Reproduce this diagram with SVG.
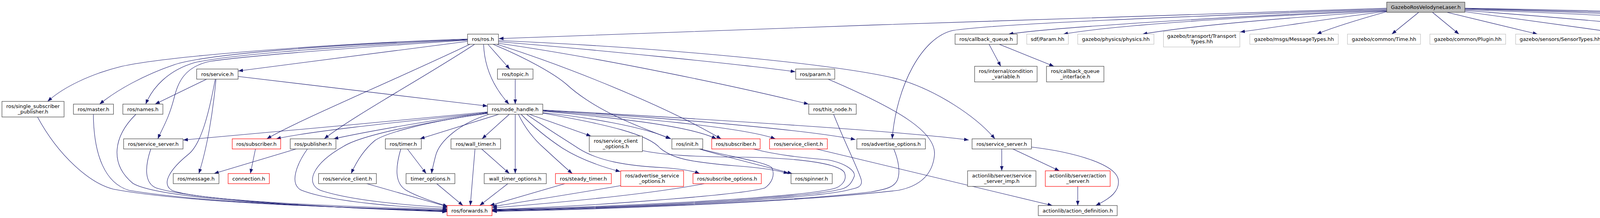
<svg xmlns="http://www.w3.org/2000/svg" width="5271" height="559" viewBox="0 0 5271 559">
<style>
.n rect{fill:#fff;stroke:#404040;stroke-width:1.2}
.r rect{fill:#fff;stroke:#ff0000;stroke-width:1.2}
.g rect{fill:#fff;stroke:#bfbfbf;stroke-width:1.2}
.root rect{fill:#bfbfbf;stroke:#404040;stroke-width:1.2}
text{font-family:"DejaVu Sans","Liberation Sans",sans-serif;font-size:13px;fill:#000;text-anchor:middle}
#edges path{fill:none;stroke:#191970;stroke-width:1.1;marker-end:url(#a)}
</style>
<defs>
<marker id="a" viewBox="0 0 12 9" refX="12" refY="4.5" markerWidth="12" markerHeight="9" markerUnits="userSpaceOnUse" orient="auto">
<polygon points="0,0 12,4.5 0,9" fill="#191970"/>
</marker>
</defs>
<rect width="5271" height="559" fill="#fff"/>
<g id="edges">
<path d="M3550,21 C2900,40 2000,72 1277,99"/>
<path d="M3550,23 C3100,40 2550,60 2440,78 C2360,95 2295,220 2284,356"/>
<path d="M3550,25 C3100,45 2700,70 2582,87.5"/>
<path d="M3550,27 C3150,45 2850,65 2722,87.5"/>
<path d="M3550,28 C3300,45 3050,65 2925,87.5"/>
<path d="M3550,29 C3420,45 3280,68 3175,82"/>
<path d="M3550,30 C3470,52 3400,75 3371,87.5"/>
<path d="M3632,31.5 L3563,87.5"/>
<path d="M3667,31.5 L3735,87.5"/>
<path d="M3704,31.5 L3936,87.5"/>
<path d="M3750,30 L4166,87.5"/>
<path d="M3750,27 C4000,45 4250,68 4365,81"/>
<path d="M3750,25 C4200,40 4480,60 4567,87.5"/>
<path d="M3750,23 C4300,38 4620,60 4717,87.5"/>
<path d="M3750,22 C4400,36 4780,60 4881,87.5"/>
<path d="M3750,21 C4550,34 4960,62 5092,87.5"/>
<path d="M1197,100 C900,110 450,140 312,170 C230,190 160,225 122,260"/>
<path d="M1197,101 C900,113 540,135 446,166 C370,192 300,230 255,267"/>
<path d="M1197,102 C920,116 600,138 500,160 C430,180 390,225 373,267"/>
<path d="M1197,103 C940,120 640,142 540,157 C470,170 455,215 446,250 C432,305 415,330 404,356"/>
<path d="M1197,106 L610,182"/>
<path d="M1203,113.5 C1000,210 760,310 683,356"/>
<path d="M1215,113.5 C1100,190 900,300 830,356"/>
<path d="M1238,113.5 C1240,170 1260,220 1303,267"/>
<path d="M1249,113.5 L1305,177"/>
<path d="M1276,107 C1500,125 1900,165 2036,184"/>
<path d="M1276,111 C1550,150 1900,225 2070,267"/>
<path d="M1272,113.5 C1450,170 1700,270 1846,356"/>
<path d="M1262,113.5 C1350,150 1420,190 1450,216 C1520,280 1620,320 1718,356"/>
<path d="M1276,104 C1700,122 2150,165 2300,203 C2400,232 2500,300 2547,356"/>
<path d="M1319,203 L1319,267"/>
<path d="M529,203 L397,267"/>
<path d="M609.5,196 L1248,272"/>
<path d="M553,203 C545,290 530,380 509,445"/>
<path d="M551,203 C535,290 515,370 482,396 C440,430 410,470 440,488 C520,520 1000,533 1144.5,538"/>
<path d="M96,300 C150,400 230,470 290,485 C500,525 1000,535 1144.5,540"/>
<path d="M239,293 C240,400 270,470 330,488 C550,525 1000,536 1144.5,541"/>
<path d="M348,293 C290,350 280,420 340,470 C420,520 1000,537 1144.5,542"/>
<path d="M386,382 C370,430 370,470 400,482 C520,520 1000,538 1144.5,543"/>
<path d="M654,382 L641,445"/>
<path d="M758,382 L548,445"/>
<path d="M787,382 C760,420 740,470 770,487 C850,520 1050,532 1146,536"/>
<path d="M1248,287 C1000,310 700,340 469,359"/>
<path d="M1248,289 C1050,310 800,335 707,356"/>
<path d="M1248,288 C1100,310 950,335 854,356"/>
<path d="M1248,291 C1100,310 990,340 960,360 C930,385 910,420 899,445"/>
<path d="M1248,290 C1050,320 920,350 880,375 C800,420 780,470 820,488 C900,515 1050,527 1146,532"/>
<path d="M1277,293 L1075,356"/>
<path d="M1252,293 C1180,315 1125,360 1115,400 C1110,420 1106,435 1105,445"/>
<path d="M1304,293 L1234,356"/>
<path d="M1319,293 L1319,445"/>
<path d="M1327,293 C1345,330 1370,360 1393,380 C1420,405 1445,428 1465,445"/>
<path d="M1334,293 C1370,330 1410,360 1440,380 C1480,405 1530,425 1588,440"/>
<path d="M1348,293 C1400,330 1450,360 1480,380 C1530,412 1600,425 1700,430 C1740,433 1770,437 1791,445"/>
<path d="M1355,293 L1513,349"/>
<path d="M1389,289 C1500,300 1650,325 1716,356"/>
<path d="M1389,290 C1560,320 1660,345 1690,380 C1720,405 1760,415 1880,425 C1950,430 1995,438 2018,445"/>
<path d="M1389,285 C1550,300 1760,320 1834,356"/>
<path d="M1389,284 C1600,300 1900,325 1985,356"/>
<path d="M1389,283 C1650,298 2050,330 2190,358"/>
<path d="M1389,282 C1800,305 2300,335 2480,359"/>
<path d="M1790,382 C1850,400 1950,425 2028,445"/>
<path d="M1793,382 C1860,400 1960,415 1976,430 C1985,450 1975,470 1958,482 C1900,500 1500,530 1260,537"/>
<path d="M1644,386 C1700,398 1780,402 1900,403 C2050,405 2150,420 2162,443 C2170,465 2150,478 2140,482 C2050,510 1500,532 1260,538"/>
<path d="M1929,382 C1990,398 2060,405 2120,410 C2170,420 2190,440 2187,452 C2180,470 2172,478 2160,483 C2070,512 1500,534 1260,539"/>
<path d="M2090,382 L2694,527"/>
<path d="M2134,293 C2160,360 2200,440 2205,462 C2208,478 2195,482 2180,485 C2080,515 1500,535 1260,540"/>
<path d="M2288,382 C2300,410 2305,440 2298,460 C2290,480 2270,485 2230,492 C2000,520 1500,536 1260,541"/>
<path d="M2120,203 C2300,280 2400,340 2392,400 C2385,460 2340,480 2300,488 C2000,522 1500,538 1260,542"/>
<path d="M1446,471 L1254,527"/>
<path d="M1589,476 C1450,500 1320,520 1260,530"/>
<path d="M1803,471 C1650,500 1400,522 1260,533"/>
<path d="M1043,382 L1091,445"/>
<path d="M1026,382 C1012,430 1010,470 1040,488 C1070,505 1110,518 1146,529"/>
<path d="M1216,382 L1204,527"/>
<path d="M1233,382 L1304,445"/>
<path d="M1118,471 L1185,527"/>
<path d="M1300,471 L1228,527"/>
<path d="M939,471 L1146,530"/>
<path d="M2532,113.5 L2562,170"/>
<path d="M2558,113.5 L2698,170"/>
<path d="M2564.5,382 L2564.5,438"/>
<path d="M2593,382 L2712,438"/>
<path d="M2640,377 C2750,390 2850,420 2862,457 C2870,490 2840,510 2805,527"/>
<path d="M2759,478 L2759,527"/>
</g>
<g id="n_root" class="root"><rect x="3550" y="5.5" width="200" height="26"/><text x="3650" y="23">GazeboRosVelodyneLaser.h</text></g>
<g id="n_ros" class="n"><rect x="1197" y="87.5" width="79" height="26"/><text x="1236.5" y="105">ros/ros.h</text></g>
<g id="n_cbq" class="n"><rect x="2445" y="87.5" width="159" height="26"/><text x="2524.5" y="105">ros/callback_queue.h</text></g>
<g id="n_sdf" class="g"><rect x="2628.5" y="87.5" width="106.5" height="26"/><text x="2681.75" y="105">sdf/Param.hh</text></g>
<g id="n_phys" class="g"><rect x="2759" y="87.5" width="195" height="26"/><text x="2856.5" y="105">gazebo/physics/physics.hh</text></g>
<g id="n_trans" class="g"><rect x="2978.5" y="80.5" width="195.5" height="40"/><text x="3076.25" y="97">gazebo/transport/Transport</text><text x="3076.25" y="111">Types.hh</text></g>
<g id="n_msgt" class="g"><rect x="3199.5" y="87.5" width="226.5" height="26"/><text x="3312.75" y="105">gazebo/msgs/MessageTypes.hh</text></g>
<g id="n_time" class="g"><rect x="3449.5" y="87.5" width="187" height="26"/><text x="3543" y="105">gazebo/common/Time.hh</text></g>
<g id="n_plugin" class="g"><rect x="3660.5" y="87.5" width="194" height="26"/><text x="3757.5" y="105">gazebo/common/Plugin.hh</text></g>
<g id="n_sensor" class="g"><rect x="3880" y="87.5" width="228" height="26"/><text x="3994" y="105">gazebo/sensors/SensorTypes.hh</text></g>
<g id="n_ray" class="g"><rect x="4131.5" y="87.5" width="209.5" height="26"/><text x="4236.25" y="105">gazebo/plugins/RayPlugin.hh</text></g>
<g id="n_trim" class="g"><rect x="4365.5" y="80.5" width="166" height="40"/><text x="4448.5" y="97">boost/algorithm/string</text><text x="4448.5" y="111">/trim.hpp</text></g>
<g id="n_bind" class="g"><rect x="4556" y="87.5" width="118.5" height="26"/><text x="4615.25" y="105">boost/bind.hpp</text></g>
<g id="n_thread" class="g"><rect x="4698.5" y="87.5" width="132" height="26"/><text x="4764.5" y="105">boost/thread.hpp</text></g>
<g id="n_mutex" class="g"><rect x="4855" y="87.5" width="179" height="26"/><text x="4944.5" y="105">boost/thread/mutex.hpp</text></g>
<g id="n_lock" class="g"><rect x="5059" y="87.5" width="206" height="26"/><text x="5162" y="105">boost/thread/lock_guard.hpp</text></g>
<g id="n_service" class="n"><rect x="503.5" y="177" width="106" height="26"/><text x="556.5" y="194.5">ros/service.h</text></g>
<g id="n_topic" class="n"><rect x="1273.5" y="177" width="91" height="26"/><text x="1319" y="194.5">ros/topic.h</text></g>
<g id="n_param" class="n"><rect x="2037" y="177" width="100" height="26"/><text x="2087" y="194.5">ros/param.h</text></g>
<g id="n_condvar" class="n"><rect x="2495" y="170" width="160" height="40"/><text x="2575" y="186.5">ros/internal/condition</text><text x="2575" y="200.5">_variable.h</text></g>
<g id="n_cbqi" class="n"><rect x="2679" y="170" width="147" height="40"/><text x="2752.5" y="186.5">ros/callback_queue</text><text x="2752.5" y="200.5">_interface.h</text></g>
<g id="n_ssp" class="n"><rect x="5" y="260" width="159" height="40"/><text x="84.5" y="276.5">ros/single_subscriber</text><text x="84.5" y="290.5">_publisher.h</text></g>
<g id="n_master" class="n"><rect x="188" y="267" width="102.5" height="26"/><text x="239.25" y="284.5">ros/master.h</text></g>
<g id="n_names" class="n"><rect x="314.5" y="267" width="102.5" height="26"/><text x="365.75" y="284.5">ros/names.h</text></g>
<g id="n_nh" class="n"><rect x="1248" y="267" width="141.5" height="26"/><text x="1318.75" y="284.5">ros/node_handle.h</text></g>
<g id="n_thisnode" class="n"><rect x="2070.5" y="267" width="121.5" height="26"/><text x="2131.25" y="284.5">ros/this_node.h</text></g>
<g id="n_ssrv1" class="n"><rect x="316.5" y="356" width="152" height="26"/><text x="392.5" y="373.5">ros/service_server.h</text></g>
<g id="n_sub1" class="r"><rect x="594.5" y="356" width="124" height="26"/><text x="656.5" y="373.5">ros/subscriber.h</text></g>
<g id="n_pub" class="n"><rect x="743" y="356" width="117" height="26"/><text x="801.5" y="373.5">ros/publisher.h</text></g>
<g id="n_timer" class="n"><rect x="986.5" y="356" width="92" height="26"/><text x="1032.5" y="373.5">ros/timer.h</text></g>
<g id="n_wtimer" class="n"><rect x="1154.5" y="356" width="127" height="26"/><text x="1218" y="373.5">ros/wall_timer.h</text></g>
<g id="n_sco" class="n"><rect x="1508.5" y="349" width="136" height="40"/><text x="1576.5" y="365.5">ros/service_client</text><text x="1576.5" y="379.5">_options.h</text></g>
<g id="n_init" class="n"><rect x="1720" y="356" width="79" height="26"/><text x="1759.5" y="373.5">ros/init.h</text></g>
<g id="n_sub2" class="r"><rect x="1822" y="356" width="124" height="26"/><text x="1884" y="373.5">ros/subscriber.h</text></g>
<g id="n_scl2" class="r"><rect x="1970" y="356" width="148" height="26"/><text x="2044" y="373.5">ros/service_client.h</text></g>
<g id="n_advopt" class="n"><rect x="2193.5" y="356" width="175.5" height="26"/><text x="2281.25" y="373.5">ros/advertise_options.h</text></g>
<g id="n_ssrv2" class="n"><rect x="2488.5" y="356" width="152" height="26"/><text x="2564.5" y="373.5">ros/service_server.h</text></g>
<g id="n_msg" class="n"><rect x="443.5" y="445" width="117" height="26"/><text x="502" y="462.5">ros/message.h</text></g>
<g id="n_conn" class="r"><rect x="584" y="445" width="105.5" height="26"/><text x="636.75" y="462.5">connection.h</text></g>
<g id="n_scl1" class="n"><rect x="815.5" y="445" width="148" height="26"/><text x="889.5" y="462.5">ros/service_client.h</text></g>
<g id="n_topt" class="n"><rect x="1039.5" y="445" width="125" height="26"/><text x="1102" y="462.5">timer_options.h</text></g>
<g id="n_wtopt" class="n"><rect x="1239.5" y="445" width="159" height="26"/><text x="1319" y="462.5">wall_timer_options.h</text></g>
<g id="n_steady" class="r"><rect x="1422" y="445" width="143" height="26"/><text x="1493.5" y="462.5">ros/steady_timer.h</text></g>
<g id="n_aso" class="r"><rect x="1589" y="438" width="161" height="40"/><text x="1669.5" y="454.5">ros/advertise_service</text><text x="1669.5" y="468.5">_options.h</text></g>
<g id="n_subopt" class="r"><rect x="1774" y="445" width="175" height="26"/><text x="1861.5" y="462.5">ros/subscribe_options.h</text></g>
<g id="n_spin" class="n"><rect x="2025" y="445" width="105.5" height="26"/><text x="2077.75" y="462.5">ros/spinner.h</text></g>
<g id="n_ssimp" class="n"><rect x="2477" y="438" width="175" height="40"/><text x="2564.5" y="454.5">actionlib/server/service</text><text x="2564.5" y="468.5">_server_imp.h</text></g>
<g id="n_asrv" class="r"><rect x="2676" y="438" width="166" height="40"/><text x="2759" y="454.5">actionlib/server/action</text><text x="2759" y="468.5">_server.h</text></g>
<g id="n_fwd" class="r"><rect x="1144.5" y="527" width="115" height="26"/><text x="1202" y="544.5">ros/forwards.h</text></g>
<g id="n_adef" class="n"><rect x="2658" y="527" width="202" height="26"/><text x="2759" y="544.5">actionlib/action_definition.h</text></g>
</svg>
